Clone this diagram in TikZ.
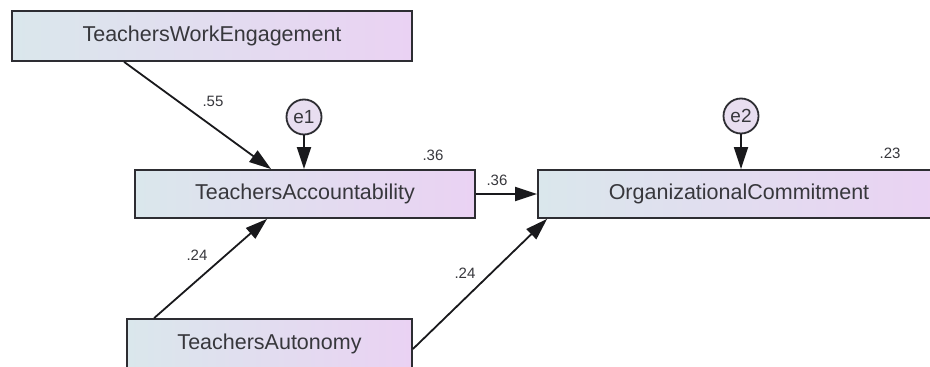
\documentclass[tikz,border=0pt]{standalone}
\usepackage{fontspec}
\setmainfont{Liberation Sans}
\usetikzlibrary{arrows.meta,calc}
\definecolor{boxleft}{RGB}{218,231,236}
\definecolor{boxright}{RGB}{234,210,243}
\definecolor{circfill}{RGB}{232,222,240}
\definecolor{ink}{RGB}{45,45,50}
\definecolor{linek}{RGB}{25,25,28}
\definecolor{txt}{RGB}{55,55,60}
\tikzset{
  varbox/.style={rectangle, draw=ink, line width=1.8pt, left color=boxleft, right color=boxright,
    text=txt, font=\fontsize{21.5}{24}\selectfont, inner sep=0pt},
  errc/.style={circle, draw=ink, line width=1.8pt, fill=circfill, text=txt,
    font=\fontsize{19}{21}\selectfont, minimum size=35pt, inner sep=0pt},
  path/.style={draw=linek, line width=1.8pt, -{Triangle[length=22pt,width=14pt]}},
  coef/.style={text=txt, font=\fontsize{15}{17}\selectfont, inner sep=0pt}
}
\begin{document}
\begin{tikzpicture}[x=1pt,y=-1pt]
\useasboundingbox[fill=white] (0,0) rectangle (930,367);
\node[varbox, minimum width=400pt, minimum height=50pt] (twe) at (212,36) {TeachersWorkEngagement};
\node[varbox, minimum width=340pt, minimum height=48pt] (ta) at (305,194) {TeachersAccountability};
\node[varbox, minimum width=402pt, minimum height=48pt] (oc) at (739,194) {OrganizationalCommitment};
\node[varbox, minimum width=285pt, minimum height=50pt] (tau) at (269.5,344) {TeachersAutonomy};
\node[errc] (e1) at (304,117) {e1};
\node[errc] (e2) at (741,116) {e2};
\draw[path] ($(twe.south west)+(113,0)$) -- ($(ta.north west)+(137,0)$);
\draw[path] (e1.south) -- (e1.south |- ta.north);
\draw[path] (e2.south) -- (e2.south |- oc.north);
\draw[path] (ta.east) -- (ta.east -| oc.west);
\draw[path] ($(tau.north west)+(28,0)$) -- ($(ta.south west)+(133,0)$);
\draw[path] ($(tau.east)+(0,5)$) -- ($(oc.south west)+(10,0)$);
\node[coef] (c1) at (213,101) {.55};
\node[coef] (c2) at (433,155) {.36};
\node[coef] (c3) at (497,180) {.36};
\node[coef] (c4) at (197,255) {.24};
\node[coef] (c5) at (465,273) {.24};
\node[coef] (c6) at (890,153) {.23};
\end{tikzpicture}
\end{document}
